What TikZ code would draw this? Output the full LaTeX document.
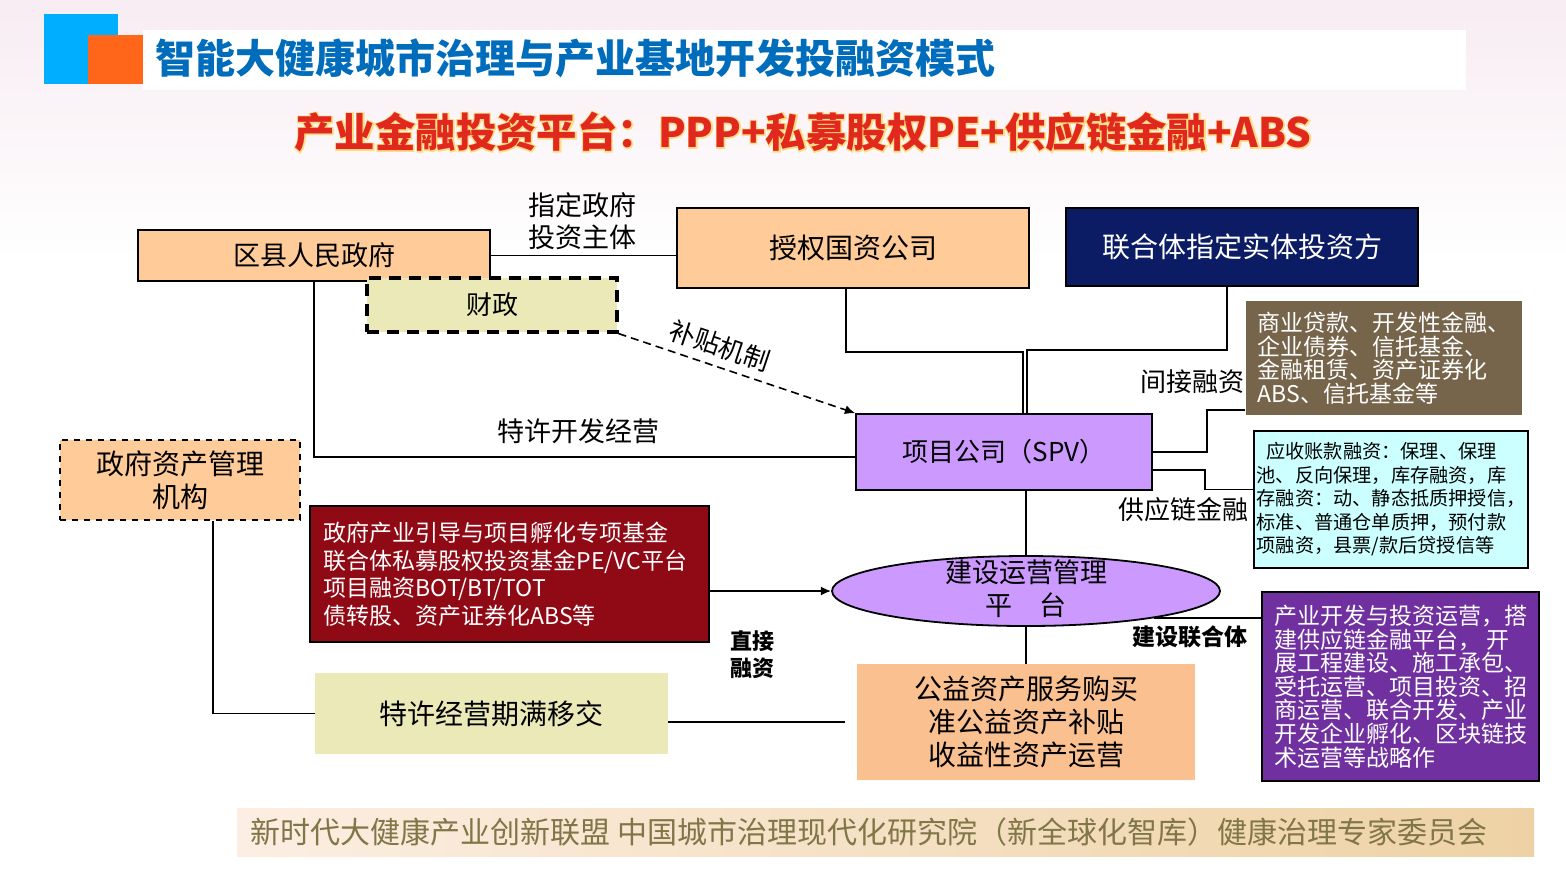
\documentclass[tikz,border=0pt]{standalone}
\usepackage{fontspec}
\setmainfont{Noto Sans CJK SC}
\newfontfamily\glowfont[FakeBold=6]{Noto Sans CJK SC}
\usetikzlibrary{arrows.meta,positioning,shapes.geometric}
\definecolor{peach}{RGB}{255,204,153}
\definecolor{khaki}{RGB}{235,233,184}
\definecolor{navy}{RGB}{12,28,100}
\definecolor{loanbrown}{RGB}{118,100,75}
\definecolor{lavender}{RGB}{204,153,255}
\definecolor{chaincyan}{RGB}{204,255,255}
\definecolor{fundred}{RGB}{144,10,22}
\definecolor{unionpurple}{RGB}{112,48,160}
\definecolor{servicepeach}{RGB}{250,192,143}
\definecolor{titleblue}{RGB}{0,108,188}
\definecolor{markcyan}{RGB}{0,174,255}
\definecolor{markorange}{RGB}{255,102,26}
\definecolor{subred}{RGB}{225,40,30}
\definecolor{subglow}{RGB}{255,220,130}
\definecolor{foottext}{RGB}{128,118,72}
\definecolor{footleft}{RGB}{252,238,226}
\definecolor{footright}{RGB}{238,210,165}
\definecolor{bgpink}{RGB}{247,236,242}
\tikzset{
    orgbox/.style={rectangle,draw,line width=0.9pt,fill=peach,align=center,inner sep=2pt,font=\fontsize{13.5}{16}\selectfont},
    dashbox/.style={rectangle,draw,dashed,line width=0.8pt,align=center,inner sep=2pt,font=\fontsize{14}{16.5}\selectfont},
    plainbox/.style={rectangle,align=center,inner sep=2pt,font=\fontsize{14}{16.5}\selectfont},
    infobox/.style={rectangle,draw,line width=0.9pt,align=left,inner sep=2pt},
    platformshape/.style={ellipse,draw,line width=0.9pt,fill=lavender,inner sep=0pt,minimum width=194pt,minimum height=35pt},
    labeltext/.style={align=center,inner sep=1pt,font=\fontsize{13.5}{16}\selectfont},
    flowline/.style={line width=0.9pt},
    flowarrow/.style={-{Latex[length=1.8mm,width=1.6mm]},line width=0.9pt},
    flowdash/.style={-{Latex[length=1.8mm,width=1.6mm]},line width=0.8pt,dash pattern=on 4pt off 2.5pt}
}
\begin{document}
\begin{tikzpicture}[x=0.5pt,y=-0.5pt]
    \useasboundingbox (0,0) rectangle (1566,874);
    \fill[white] (0,0) rectangle (1566,874);
    \shade[top color=bgpink,bottom color=white] (0,0) rectangle (1566,260);
    % title
    \fill[markcyan] (44,14) rectangle (118,84);
    \fill[markorange] (88,35) rectangle (143,84);
    \fill[white] (143,30) rectangle (1466,90);
    \node[anchor=west,inner sep=0pt,text=titleblue,font=\fontsize{20}{24}\selectfont\bfseries] (title) at (155,58) {智能大健康城市治理与产业基地开发投融资模式};
    \node[inner sep=0pt,text=subglow,font=\fontsize{20.2}{24}\glowfont\bfseries] (subback) at (803,132) {产业金融投资平台：PPP+私募股权PE+供应链金融+ABS};
    \node[inner sep=0pt,text=subred,font=\fontsize{20.2}{24}\selectfont\bfseries] (subtitle) at (subback.center) {产业金融投资平台：PPP+私募股权PE+供应链金融+ABS};
    % boxes
    \node[orgbox,minimum width=176pt,minimum height=25.5pt] (gov) at (314,255.5) {区县人民政府};
    \node[dashbox,fill=khaki,line width=1.6pt,dash pattern=on 6pt off 4pt,minimum width=125pt,minimum height=27pt,font=\fontsize{13}{15}\selectfont] (finance) at (492,305) {财政};
    \node[orgbox,minimum width=176pt,minimum height=40pt,font=\fontsize{14}{16}\selectfont] (statefirm) at (853,248) {授权国资公司};
    \node[orgbox,fill=navy,text=white,minimum width=176pt,minimum height=39pt,font=\fontsize{14}{16}\selectfont] (investor) at (1242,247) {联合体指定实体投资方};
    \node[infobox,draw=none,fill=loanbrown,text=white,minimum width=138pt,minimum height=57pt,font=\fontsize{11.5}{11.8}\selectfont] (loans) at (1384,358) {商业贷款、开发性金融、\\企业债券、信托基金、\\金融租赁、资产证券化\\ABS、信托基金等};
    \node[orgbox,fill=lavender,minimum width=148pt,minimum height=38pt,font=\fontsize{13}{15}\selectfont] (spv) at (1004,452) {项目公司（SPV）};
    \node[infobox,fill=chaincyan,minimum width=137pt,minimum height=68.5pt,inner sep=1pt,font=\fontsize{9.6}{11.75}\selectfont] (chain) at (1391,499.5) {\hspace*{0.5em}应收账款融资：保理、保理\\池、反向保理，库存融资，库\\存融资：动、静态抵质押授信，\\标准、普通仓单质押，预付款\\项融资，县票/款后贷授信等};
    \node[dashbox,fill=peach,minimum width=120pt,minimum height=40pt] (assetorg) at (180,480) {政府资产管理\\机构};
    \node[infobox,fill=fundred,text=white,minimum width=199.5pt,minimum height=68pt,text width=186pt,inner xsep=6.75pt,font=\fontsize{11.5}{13.75}\selectfont] (fund) at (509.5,574) {政府产业引导与项目孵化专项基金\\联合体私募股权投资基金PE/VC平台\\项目融资BOT/BT/TOT\\债转股、资产证券化ABS等};
    \node[platformshape] (platform) at (1026,591) {};
    \node[labeltext,font=\fontsize{13.5}{16.5}\selectfont] (platformtext) at (1026,588.5) {建设运营管理\\平\hspace{1em}台};
    \node[plainbox,fill=servicepeach,minimum width=169pt,minimum height=58pt,font=\fontsize{14}{16.5}\selectfont] (service) at (1026,722) {公益资产服务购买\\准公益资产补贴\\收益性资产运营};
    \node[plainbox,fill=khaki,minimum width=176.5pt,minimum height=40.5pt] (transfer) at (491.5,713.5) {特许经营期满移交};
    \node[infobox,fill=unionpurple,text=white,minimum width=138.5pt,minimum height=94.5pt,font=\fontsize{11.5}{11.8}\selectfont] (union) at (1400.5,686.5) {产业开发与投资运营，搭\\建供应链金融平台， 开\\展工程建设、施工承包、\\受托运营、项目投资、招\\商运营、联合开发、产业\\开发企业孵化、区块链技\\术运营等战略作};
    % connectors
    \draw[flowline] (gov.east) -- (gov.east -| statefirm.west);
    \node[labeltext] (appoint) at (582,221) {指定政府\\投资主体};
    \draw[flowline] (gov.south) |- ([yshift=-2.5pt]spv.west);
    \node[labeltext] (franchise) at (578,431) {特许开发经营};
    \draw[flowdash] (finance.south east) -- node[sloped,above=3pt,pos=0.4,labeltext,font=\fontsize{13}{15}\selectfont] (subsidy) {补贴机制} (spv.north west);
    \draw[flowline] ([xshift=-3.5pt]statefirm.south) -- ++(0,63) -| ([xshift=9.5pt]spv.north);
    \draw[flowline] ([xshift=-7.5pt]investor.south) -- ++(0,63) -| ([xshift=11.5pt]spv.north);
    \draw[flowline] (spv.east) -- ++(54,0) |- ([yshift=3pt]loans.south west);
    \node[labeltext,font=\fontsize{13}{15}\selectfont] (indirect) at (1192,382) {间接融资};
    \draw[flowline] ([yshift=-9pt]spv.east) -- ++(52,0) |- ([yshift=5pt]chain.west);
    \node[labeltext,font=\fontsize{13}{15}\selectfont] (supply) at (1183,510) {供应链金融};
    \draw[flowline] (platform.north |- spv.south) -- (platform.north);
    \draw[flowline] (platform.south) -- (service.north);
    \draw[flowarrow] (fund.east |- platform.west) -- (platform.west);
    \node[labeltext,font=\fontsize{11}{13.5}\selectfont\bfseries] (direct) at (752,655) {直接\\融资};
    \draw[flowline] ([xshift=16.5pt]assetorg.south) |- (transfer.west);
    \draw[flowline] (transfer.east |- service.west) -- ([xshift=-6pt]service.west);
    \draw[flowline] (platform.-12) -- (platform.-12 -| union.west);
    \node[labeltext,font=\fontsize{11.5}{13.5}\selectfont\bfseries] (builder) at (1190,637) {建设联合体};
    % footer
    \shade[left color=footleft,right color=footright] (237,808) rectangle (1534,856);
    \node[anchor=west,inner sep=0pt,text=foottext,font=\fontsize{15}{17}\selectfont] (footer) at (250,832) {新时代大健康产业创新联盟 中国城市治理现代化研究院（新全球化智库）健康治理专家委员会};
\end{tikzpicture}
\end{document}
